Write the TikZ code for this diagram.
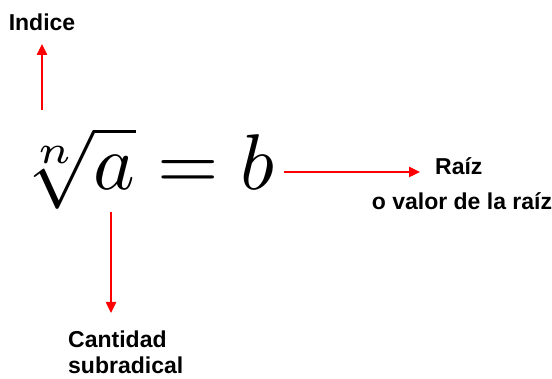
\documentclass[tikz,border=0pt]{standalone}
\usepackage{graphicx}
\usepackage{fontspec}
\setmainfont{Liberation Sans}
\usetikzlibrary{arrows.meta}
\begin{document}
\begin{tikzpicture}[x=1pt,y=-1pt,
  lbl/.style={font=\fontsize{23}{25.5}\selectfont\bfseries, inner sep=0pt},
  redarrow/.style={draw=red, line width=2.4pt, -{Triangle[length=11pt,width=10pt]}}]
\useasboundingbox (0,0) rectangle (552,379);
\node[lbl] (indice) at (42,22) {Indice};
\node[inner sep=0pt, anchor=base west] (math) at (15,190) {\scalebox{7.9}{$\sqrt[n]{a}=b$}};
\node[lbl, anchor=west] (raiz) at (435,166) {Raíz};
\node[lbl] (valor) at (462,201) {o valor de la raíz};
\node[lbl, align=left, anchor=north west] (cant) at (68,331) {Cantidad\\subradical};
\coordinate (up0) at (42,110);
\coordinate (dn0) at (111,212);
\coordinate (rt0) at (284,172);
\draw[redarrow] (up0) -- (indice.south |- 0,44);
\draw[redarrow] (dn0) -- (111,313);
\draw[redarrow] (rt0) -- (420,172);
\end{tikzpicture}
\end{document}
